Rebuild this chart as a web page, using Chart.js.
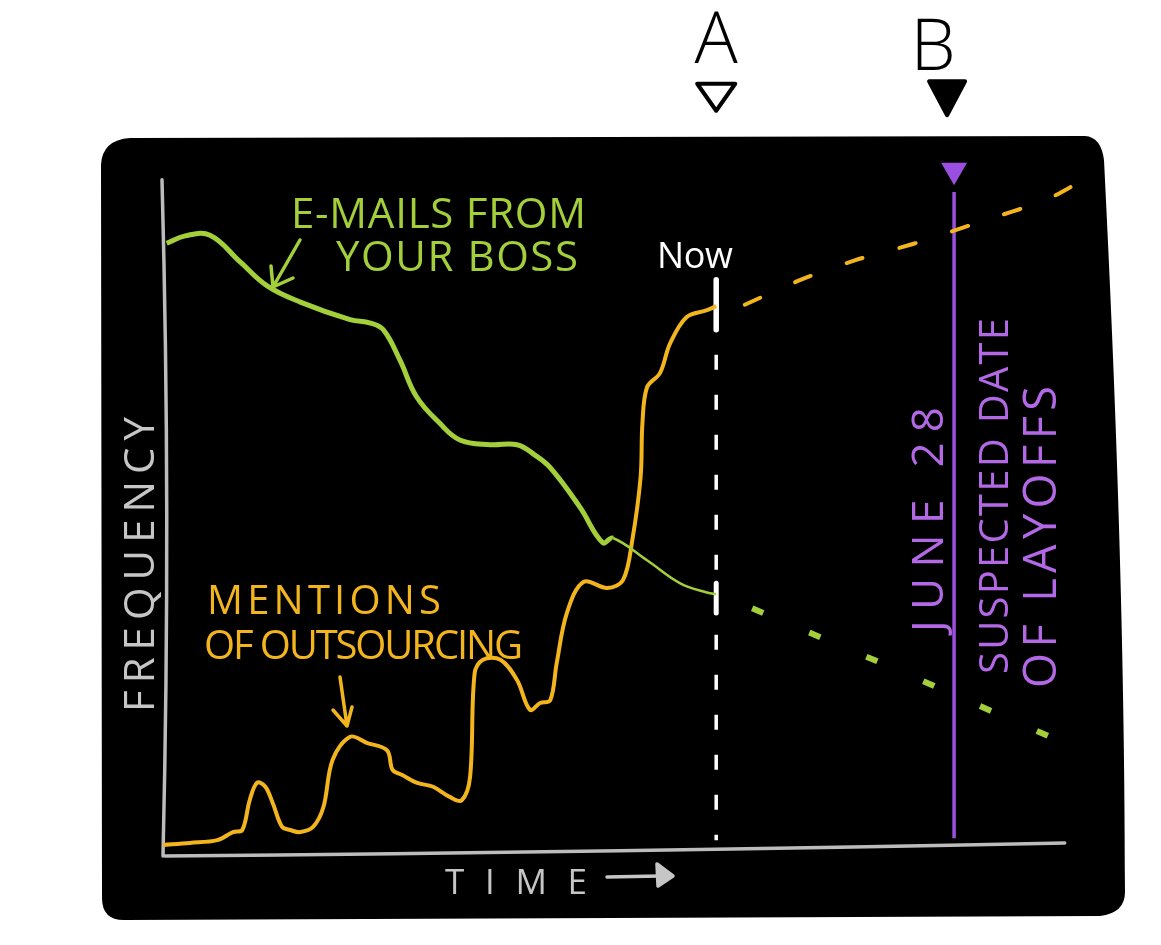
<!DOCTYPE html>
<html>
<head>
<meta charset="utf-8">
<script src="https://cdn.jsdelivr.net/npm/chart.js@4"></script>
<style>
  html, body { margin: 0; padding: 0; background: #fff; }
  #wrap { width: 1161px; height: 945px; position: relative; }
</style>
</head>
<body>
<div id="wrap"><canvas id="chart"></canvas></div>
<script>
// values in axis units: time 0..100, frequency 0..100
const emailPoints = [
  [0.4, 89.9], [2.4, 91.0], [5.1, 91.1], [8.4, 87.1], [11.3, 83.6], [14.9, 81.2],
  [20.3, 78.6], [22.5, 78.1], [23.9, 77.1], [25.7, 72.6], [27.5, 67.2], [30.0, 63.3],
  [32.2, 60.8], [35.5, 60.1], [38.4, 60.1], [40.3, 58.6], [42.0, 56.7], [45.2, 50.9],
  [47.7, 45.6], [48.8, 46.3], [52.5, 43.0], [56.1, 39.6], [59.1, 38.2], [60.0, 38.0]
];
const outsourcingPoints = [
  [0.0, 0.9], [2.9, 1.2], [5.9, 1.6], [7.6, 2.8], [8.6, 3.1], [9.4, 7.5], [10.2, 10.1],
  [11.1, 9.5], [11.9, 7.1], [12.9, 3.6], [13.8, 3.1], [14.9, 2.8], [16.3, 3.6], [17.4, 6.5],
  [18.4, 13.5], [20.3, 16.9], [22.1, 16.0], [24.3, 14.9], [24.9, 12.0], [26.0, 11.2],
  [27.5, 10.1], [29.3, 9.5], [31.1, 8.0], [32.4, 7.5], [33.3, 10.9], [33.8, 26.3],
  [34.7, 28.3], [36.6, 28.3], [38.4, 25.3], [39.8, 20.9], [40.9, 21.9], [42.0, 22.3],
  [42.7, 27.8], [43.8, 35.2], [45.6, 39.8], [48.2, 38.9], [49.9, 40.1], [50.9, 46.0],
  [51.8, 55.3], [52.0, 63.3], [52.5, 68.6], [53.9, 70.7], [55.0, 75.1], [56.8, 79.0],
  [59.0, 80.0], [60.0, 80.6]
];
const emailForecast = [[63.9, 35.9], [80.0, 26.6], [96.2, 16.9]];
const outsourcingForecast = [[63.1, 80.8], [69.0, 84.4], [75.1, 87.4], [81.6, 89.9], [88.5, 93.0], [95.7, 96.3], [99.5, 99.0]];

const nowX = 60.0;
const nowTick = [84.5, 77.1];
const nowGreenTick = [39.6, 35.2];
const nowDashed = [73.4, 1.6];
const layoffX = 85.8;
const layoffLine = [1.9, 97.5];
const layoffMarkerY = 100.7;
const headerMarkerY = 111.5;

const GREEN = '#a3cf3b';
const ORANGE = '#f2b51d';
const PURPLE = '#9b4fe0';
const PURPLE_TEXT = '#b368e6';
const GRAY = '#bcbcbc';

const xy = pts => pts.map(p => ({ x: p[0], y: p[1] }));
const vline = (x, ys) => ys.map(y => ({ x: x, y: y }));

const fontFam = '"Open Sans", "Noto Sans", sans-serif';

function spaced(ctx, str, x, y, w) {
  ctx.letterSpacing = '0px';
  const nat = ctx.measureText(str).width;
  const sp = str.length > 1 ? (w - nat) / (str.length - 1) : 0;
  ctx.letterSpacing = sp + 'px';
  ctx.fillText(str, x, y);
  ctx.letterSpacing = '0px';
}

function downTriangle(ctx, cx, cy, w, h) {
  ctx.beginPath();
  ctx.moveTo(cx - w / 2, cy - h / 2);
  ctx.lineTo(cx + w / 2, cy - h / 2);
  ctx.lineTo(cx, cy + h / 2);
  ctx.closePath();
}

const boxPlugin = {
  id: 'box',
  beforeDraw(chart) {
    const ctx = chart.ctx;
    ctx.save();
    ctx.fillStyle = '#000';
    ctx.beginPath();
    ctx.moveTo(130, 138);
    ctx.lineTo(1085, 136);
    ctx.quadraticCurveTo(1101, 137, 1104, 160);
    ctx.bezierCurveTo(1112, 320, 1125, 600, 1125, 892);
    ctx.quadraticCurveTo(1125, 913, 1100, 916);
    ctx.lineTo(124, 920);
    ctx.quadraticCurveTo(102, 920, 102, 898);
    ctx.lineTo(101, 165);
    ctx.quadraticCurveTo(102, 140, 130, 138);
    ctx.fill();
    ctx.restore();
  },
  beforeDatasetsDraw(chart) {
    const ctx = chart.ctx;
    const xs = chart.scales.x, ys = chart.scales.y;
    const x0 = xs.getPixelForValue(0), y0 = ys.getPixelForValue(0);
    ctx.save();
    ctx.strokeStyle = GRAY;
    ctx.lineWidth = 3.5;
    ctx.lineCap = 'round';
    ctx.beginPath();
    ctx.moveTo(x0 - 1, ys.getPixelForValue(99.3));
    ctx.quadraticCurveTo(x0 + 8, ys.getPixelForValue(50), x0, y0 + 5);
    ctx.moveTo(x0 + 2, y0 + 5);
    ctx.quadraticCurveTo(xs.getPixelForValue(50), y0 + 1, xs.getPixelForValue(97.8), y0 - 8);
    ctx.stroke();
    ctx.restore();
  },
  afterDraw(chart) {
    const ctx = chart.ctx;
    const xs = chart.scales.x, ys = chart.scales.y;
    ctx.save();
    ctx.textBaseline = 'alphabetic';
    ctx.textAlign = 'left';

    ctx.fillStyle = GREEN;
    ctx.font = '500 42px ' + fontFam;
    spaced(ctx, 'E-MAILS FROM', 291, 228, 295);
    spaced(ctx, 'YOUR BOSS', 336, 271, 242);

    ctx.fillStyle = ORANGE;
    ctx.font = '500 40px ' + fontFam;
    spaced(ctx, 'MENTIONS', 207, 614, 234);
    spaced(ctx, 'OF OUTSOURCING', 204, 659, 319);

    ctx.fillStyle = '#fff';
    ctx.font = '500 36px ' + fontFam;
    spaced(ctx, 'Now', 657, 268, 76);

    ctx.fillStyle = '#c6c6c6';
    ctx.font = '500 35px ' + fontFam;
    spaced(ctx, 'TIME', 445, 894, 142);

    ctx.save();
    ctx.translate(154, 712);
    ctx.rotate(-Math.PI / 2);
    ctx.font = '500 42px ' + fontFam;
    spaced(ctx, 'FREQUENCY', 0, 0, 295);
    ctx.restore();

    ctx.fillStyle = PURPLE_TEXT;
    ctx.save();
    ctx.translate(943, 632);
    ctx.rotate(-Math.PI / 2);
    ctx.font = '500 44px ' + fontFam;
    spaced(ctx, 'JUNE 28', 0, 0, 225);
    ctx.restore();
    ctx.save();
    ctx.translate(1008, 674);
    ctx.rotate(-Math.PI / 2);
    ctx.font = '500 40px ' + fontFam;
    spaced(ctx, 'SUSPECTED DATE', 0, 0, 356);
    ctx.restore();
    ctx.save();
    ctx.translate(1056, 688);
    ctx.rotate(-Math.PI / 2);
    ctx.font = '500 45px ' + fontFam;
    spaced(ctx, 'OF LAYOFFS', 0, 0, 302);
    ctx.restore();

    // A / B header markers
    const ax = xs.getPixelForValue(nowX);
    const bx = xs.getPixelForValue(layoffX) - 7;
    const my = ys.getPixelForValue(headerMarkerY);
    ctx.fillStyle = '#000';
    ctx.textAlign = 'center';
    ctx.font = '300 72px ' + fontFam;
    ctx.fillText('A', ax, 63);
    ctx.fillText('B', bx - 14, 70);
    ctx.lineJoin = 'round';
    ctx.lineWidth = 4;
    ctx.strokeStyle = '#000';
    downTriangle(ctx, ax, my, 38, 27);
    ctx.fillStyle = '#fff';
    ctx.fill();
    ctx.stroke();
    downTriangle(ctx, bx, my + 1, 36, 34);
    ctx.fillStyle = '#000';
    ctx.fill();
    ctx.stroke();

    // annotation arrows
    ctx.lineCap = 'round';
    ctx.lineJoin = 'round';
    ctx.lineWidth = 3.5;
    ctx.strokeStyle = GREEN;
    ctx.beginPath();
    ctx.moveTo(300, 240); ctx.lineTo(273, 287);
    ctx.moveTo(271, 266); ctx.lineTo(273, 287); ctx.lineTo(293, 278);
    ctx.stroke();
    ctx.strokeStyle = ORANGE;
    ctx.beginPath();
    ctx.moveTo(340, 677); ctx.lineTo(347, 726);
    ctx.moveTo(333, 710); ctx.lineTo(347, 726); ctx.lineTo(352, 707);
    ctx.stroke();
    ctx.strokeStyle = '#c6c6c6';
    ctx.fillStyle = '#c6c6c6';
    ctx.beginPath();
    ctx.moveTo(607, 877); ctx.lineTo(660, 876);
    ctx.stroke();
    ctx.beginPath();
    ctx.moveTo(657, 864); ctx.lineTo(673, 876); ctx.lineTo(658, 886); ctx.closePath();
    ctx.fill(); ctx.stroke();
    ctx.restore();
  }
};

const ctx = document.getElementById('chart').getContext('2d');
const myChart = new Chart(ctx, {
  type: 'line',
  data: {
    datasets: [
      {
        label: 'E-mails from your boss',
        data: xy(emailPoints),
        borderColor: GREEN,
        borderWidth: 5,
        tension: 0.4,
        pointRadius: 0,
        segment: { borderWidth: c => (c.p0.parsed.x >= 48.8 ? 2.5 : 5) }
      },
      {
        label: 'Mentions of outsourcing',
        data: xy(outsourcingPoints),
        borderColor: ORANGE,
        borderWidth: 4,
        tension: 0.35,
        pointRadius: 0
      },
      {
        label: 'E-mails forecast',
        data: xy(emailForecast),
        borderColor: GREEN,
        borderWidth: 6,
        borderDash: [12, 50],
        borderCapStyle: 'butt',
        pointRadius: 0,
        clip: false
      },
      {
        label: 'Outsourcing forecast',
        data: xy(outsourcingForecast),
        borderColor: ORANGE,
        borderWidth: 4,
        borderDash: [17, 38],
        borderCapStyle: 'round',
        tension: 0.3,
        pointRadius: 0,
        clip: false
      },
      {
        label: 'Now',
        data: vline(nowX, nowDashed),
        borderColor: '#fff',
        borderWidth: 3.5,
        borderDash: [15, 25],
        pointRadius: 0
      },
      {
        label: 'Now tick',
        data: vline(nowX, nowTick),
        borderColor: '#fff',
        borderWidth: 5.5,
        borderCapStyle: 'round',
        pointRadius: 0
      },
      {
        label: 'Now tick green',
        data: vline(nowX, nowGreenTick),
        borderColor: '#fff',
        borderWidth: 5,
        borderCapStyle: 'round',
        pointRadius: 0
      },
      {
        label: 'Layoffs',
        data: vline(layoffX, layoffLine),
        borderColor: PURPLE,
        borderWidth: 3.5,
        pointRadius: 0
      },
      {
        label: 'Layoffs marker',
        data: vline(layoffX, [layoffMarkerY]),
        showLine: false,
        pointStyle: 'triangle',
        rotation: 180,
        pointRadius: 13,
        pointBackgroundColor: PURPLE,
        pointBorderColor: PURPLE,
        pointBorderWidth: 2,
        clip: false
      }
    ]
  },
  options: {
    responsive: true,
    maintainAspectRatio: false,
    animation: false,
    layout: { padding: { left: 163, right: 76, top: 175, bottom: 94 } },
    scales: {
      x: { type: 'linear', min: 0, max: 100, display: false },
      y: { type: 'linear', min: 0, max: 100, display: false }
    },
    plugins: {
      legend: { display: false },
      tooltip: { enabled: false }
    }
  },
  plugins: [boxPlugin]
});
</script>
</body>
</html>
